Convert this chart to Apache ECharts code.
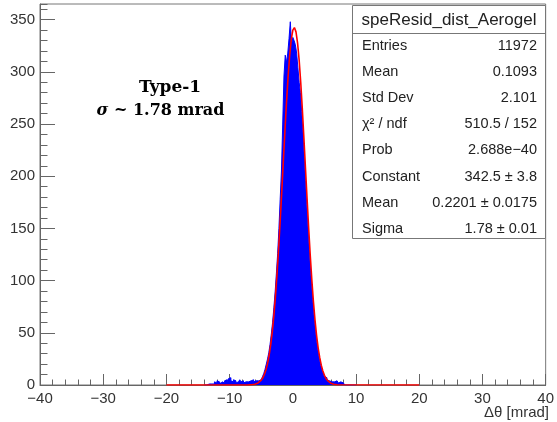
<!DOCTYPE html>
<html><head><meta charset="utf-8">
<script src="https://cdn.jsdelivr.net/npm/echarts@6/dist/echarts.min.js"></script>
<style>html,body{margin:0;padding:0;background:#fff}#c{width:557px;height:422px}</style>
</head><body><div id="c"></div>
<script>
// Histogram: bins of width 0.2 starting at -14.0 (left edges)
const binStart = -14.0;
const binWidth = 0.2;
const counts = [
  0,0,0,1,0,1,2,1,3,2, 4,3,2,1,3,2,4,5,3,6,
  7,4,3,5,4,2,3,4,5,3, 4,2,3,4,3,2,4,3,5,3,
  4,3,4,3,5,
  6,8,11,15,20,25,31,39,49,60,74,89,107,126,150,178,205,250,296,316,
  309,318,332,348,326,333,330,326,318,304,290,280,262,242,219,196,173,151,130,110,
  93,77,63,51,41,32,25,19,15,11,8,7,5,4,5,3,4,3,2,4,
  3,2,3,4,2,2,0,0,0,0,0,0,0,0,0
];
// Gaussian fit curve as drawn (x in mrad, y in entries)
const fitX = [-20,-7,-6.5,-6,-5.5,-5.25,-5,-4.75,-4.5,-4.25,-4,-3.75,-3.5,-3.25,-3,-2.75,-2.5,-2.25,-2,-1.75,-1.5,-1.25,-1,-0.75,-0.5,-0.25,0,0.25,0.5,0.75,1,1.25,1.5,1.75,2,2.25,2.5,2.75,3,3.25,3.5,3.75,4,4.25,4.5,4.75,5,5.25,5.5,5.75,6,6.5,7,20];
const fitY = [0,0.08,0.28,0.76,1.96,3.05,4.65,6.95,10.2,14.6,20.6,28.5,38.6,51.2,66.7,85.1,106.6,130.8,157.3,185.7,214.7,243.5,270.8,295.2,315.6,330.8,339.9,342.4,338.3,327.6,311.2,289.7,264.5,236.7,207.7,178.8,150.8,124.7,101.2,80.5,62.7,47.9,35.9,26.4,19.0,13.4,9.3,6.3,4.2,2.75,1.76,0.68,0.23,0];
const xMin = -40, xMax = 40, xMajor = 10, xMinor = 2;
const yMin = 0, yMax = 365, yMajor = 50, yMinor = 10;
const statsTitle = 'speResid_dist_Aerogel';
const statsNames = ['Entries','Mean','Std Dev','χ² / ndf','Prob','Constant','Mean','Sigma'];
const statsValues = ['11972','0.1093','2.101','510.5 / 152','2.688e\u221240','342.5 \u00b1 3.8','0.2201 \u00b1 0.0175','1.78 \u00b1 0.01'];
const xTitle = '\u0394\u03b8 [mrad]';

const histData = counts.map((c, i) => [binStart + i * binWidth, c]);
histData.push([binStart + counts.length * binWidth, 0]);
const fitData = fitX.map((x, i) => [x, fitY[i]]);

const axisCol = '#666';
const labelFont = 'Liberation Sans';
const fmtX = v => (v < 0 ? '\u2212' + Math.abs(v) : String(v));

const chart = echarts.init(document.getElementById('c'), null, {renderer: 'canvas'});

const graphics = [];
const bx = 352.5, by = 5.5, bw = 193, bh = 233;
graphics.push({type:'rect', z:100, shape:{x:bx, y:by, width:bw, height:bh}, style:{fill:'#fff', stroke:'#777', lineWidth:1}});
graphics.push({type:'line', z:101, shape:{x1:bx, y1:33.5, x2:bx+bw, y2:33.5}, style:{stroke:'#777', lineWidth:1}});
graphics.push({type:'text', z:102, x:449, y:20, style:{text:statsTitle, fontSize:17, fontFamily:labelFont, fill:'#222', align:'center', verticalAlign:'middle', textAlign:'center', textVerticalAlign:'middle'}});
statsNames.forEach((n, i) => {
  const yy = 45.5 + i * 26.2;
  graphics.push({type:'text', z:102, x:362, y:yy, style:{text:n, fontSize:14.5, fontFamily:labelFont, fill:'#222', align:'left', verticalAlign:'middle', textAlign:'left', textVerticalAlign:'middle'}});
  graphics.push({type:'text', z:102, x:537, y:yy, style:{text:statsValues[i], fontSize:14.5, fontFamily:labelFont, fill:'#222', align:'right', verticalAlign:'middle', textAlign:'right', textVerticalAlign:'middle'}});
});
graphics.push({type:'text', z:102, x:170, y:87.5, style:{text:'Type-1', fontSize:17, fontWeight:'bold', fontFamily:'DejaVu Serif', fill:'#000', align:'center', verticalAlign:'middle', textAlign:'center', textVerticalAlign:'middle'}});
graphics.push({type:'text', z:102, x:160.5, y:111, style:{text:'{i|\u03c3} ~ 1.78 mrad', fontSize:16, fontWeight:'bold', fontFamily:'DejaVu Serif', fill:'#000', align:'center', verticalAlign:'middle', textAlign:'center', textVerticalAlign:'middle', rich:{i:{fontStyle:'italic', fontWeight:'bold', fontSize:16, fontFamily:'DejaVu Serif', fill:'#000'}}}});
graphics.push({type:'text', z:102, x:549, y:413, style:{text:xTitle, fontSize:15, fontFamily:labelFont, fill:'#333', align:'right', verticalAlign:'middle', textAlign:'right', textVerticalAlign:'middle'}});

const option = {
  animation: false,
  backgroundColor: '#fff',
  grid: {left: 40, right: 7.5, top: 4, bottom: 37, show: true, borderColor: '#777', borderWidth: 1, backgroundColor: 'transparent'},
  xAxis: [
    {type:'value', min:xMin, max:xMax, interval:xMajor, position:'bottom',
     axisLine:{show:true, onZero:false, lineStyle:{color:axisCol, width:1}},
     axisTick:{show:true, inside:true, length:11, lineStyle:{color:axisCol}},
     axisLabel:{show:true, margin:6, fontSize:15, fontFamily:labelFont, color:'#333', formatter:fmtX},
     splitLine:{show:false}},
    {type:'value', min:xMin, max:xMax, interval:xMinor, position:'bottom',
     axisLine:{show:false, onZero:false}, axisTick:{show:true, inside:true, length:5.5, lineStyle:{color:axisCol}},
     axisLabel:{show:false}, splitLine:{show:false}}
  ],
  yAxis: [
    {type:'value', min:yMin, max:yMax, interval:yMajor, position:'left',
     axisLine:{show:true, onZero:false, lineStyle:{color:axisCol, width:1}},
     axisTick:{show:true, inside:true, length:15, lineStyle:{color:axisCol}},
     axisLabel:{show:true, margin:5, fontSize:15, fontFamily:labelFont, color:'#333', showMaxLabel:false,
       formatter: v => (v % yMajor === 0 ? String(v) : '')},
     splitLine:{show:false}},
    {type:'value', min:yMin, max:yMax, interval:yMinor, position:'left', offset:0,
     axisLine:{show:false, onZero:false}, axisTick:{show:true, inside:true, length:7.5, lineStyle:{color:axisCol}},
     axisLabel:{show:false}, splitLine:{show:false}}
  ],
  series: [
    {type:'line', name:'hist', xAxisIndex:0, yAxisIndex:0, data:histData, step:'end', symbol:'none',
     lineStyle:{color:'#0000ff', width:1}, areaStyle:{color:'#0000ff', opacity:1}, z:2},
    {type:'line', name:'fit', xAxisIndex:0, yAxisIndex:0, data:fitData, symbol:'none', smooth:false,
     lineStyle:{color:'#ff0000', width:1.6}, z:3}
  ],
  graphic: graphics
};
chart.setOption(option);
</script>
</body></html>
